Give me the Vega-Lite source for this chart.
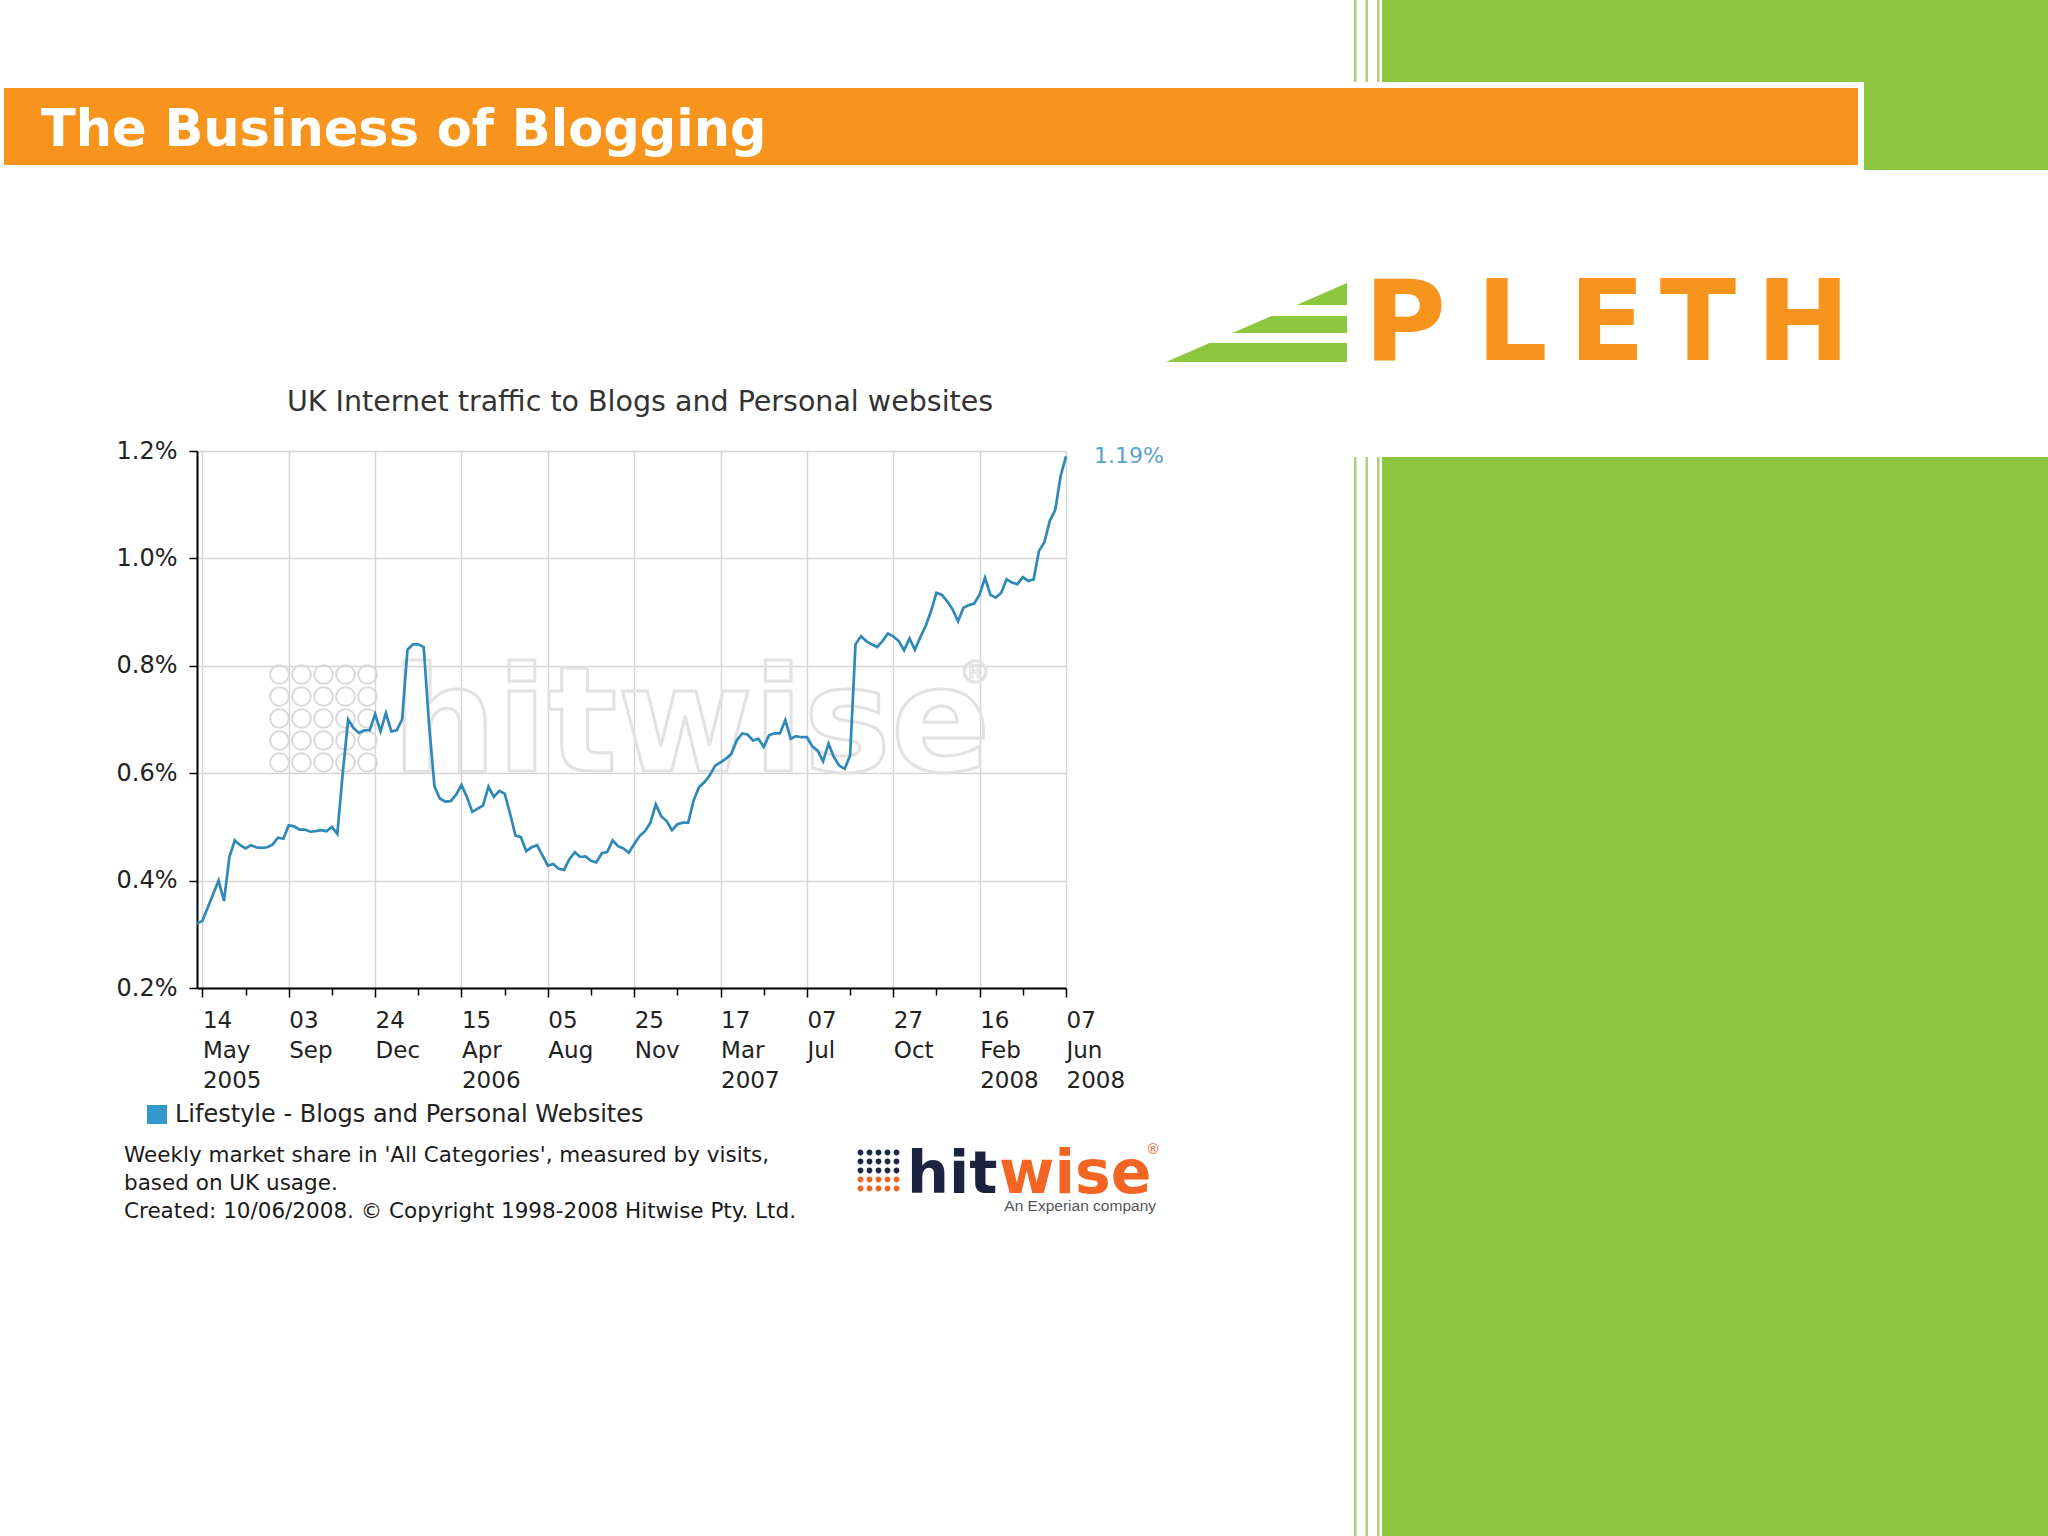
{
  "$schema": "https://vega.github.io/schema/vega-lite/v6.json",
  "width": 869,
  "height": 537,
  "autosize": {"type": "none"},
  "padding": {"left": 197, "top": 451, "right": 982, "bottom": 548},
  "background": "white",
  "config": {"view": {"stroke": null}, "font": "DejaVu Sans", "text": {"font": "DejaVu Sans"}},
  "layer": [
    {
      "data": {"values": [{}]},
      "layer": [
        {"mark": {"type": "rect", "color": "#8dc63f"}, "encoding": {"x": {"datum": 1382, "type": "quantitative", "scale": {"domain": [197, 1066], "nice": false, "zero": false}, "axis": null}, "x2": {"datum": 2048}, "y": {"datum": 0, "type": "quantitative", "scale": {"domain": [451, 988], "reverse": true, "nice": false, "zero": false}, "axis": null}, "y2": {"datum": 170}}},
        {"mark": {"type": "rect", "color": "#8dc63f"}, "encoding": {"x": {"datum": 1382, "type": "quantitative", "scale": {"domain": [197, 1066], "nice": false, "zero": false}, "axis": null}, "x2": {"datum": 2048}, "y": {"datum": 457, "type": "quantitative", "scale": {"domain": [451, 988], "reverse": true, "nice": false, "zero": false}, "axis": null}, "y2": {"datum": 1536}}},
        {"mark": {"type": "rect", "color": "#b3cc82"}, "encoding": {"x": {"datum": 1354, "type": "quantitative", "scale": {"domain": [197, 1066], "nice": false, "zero": false}, "axis": null}, "x2": {"datum": 1356.5}, "y": {"datum": 0, "type": "quantitative", "scale": {"domain": [451, 988], "reverse": true, "nice": false, "zero": false}, "axis": null}, "y2": {"datum": 1536}}},
        {"mark": {"type": "rect", "color": "#b3cc82"}, "encoding": {"x": {"datum": 1365.5, "type": "quantitative", "scale": {"domain": [197, 1066], "nice": false, "zero": false}, "axis": null}, "x2": {"datum": 1368}, "y": {"datum": 0, "type": "quantitative", "scale": {"domain": [451, 988], "reverse": true, "nice": false, "zero": false}, "axis": null}, "y2": {"datum": 1536}}},
        {"mark": {"type": "rect", "color": "#b3cc82"}, "encoding": {"x": {"datum": 1377, "type": "quantitative", "scale": {"domain": [197, 1066], "nice": false, "zero": false}, "axis": null}, "x2": {"datum": 1379.5}, "y": {"datum": 0, "type": "quantitative", "scale": {"domain": [451, 988], "reverse": true, "nice": false, "zero": false}, "axis": null}, "y2": {"datum": 1536}}},
        {"mark": {"type": "rect", "color": "#ffffff"}, "encoding": {"x": {"datum": 1340, "type": "quantitative", "scale": {"domain": [197, 1066], "nice": false, "zero": false}, "axis": null}, "x2": {"datum": 1864}, "y": {"datum": 82, "type": "quantitative", "scale": {"domain": [451, 988], "reverse": true, "nice": false, "zero": false}, "axis": null}, "y2": {"datum": 170}}},
        {"mark": {"type": "rect", "color": "#ffffff"}, "encoding": {"x": {"datum": 1340, "type": "quantitative", "scale": {"domain": [197, 1066], "nice": false, "zero": false}, "axis": null}, "x2": {"datum": 2048}, "y": {"datum": 170, "type": "quantitative", "scale": {"domain": [451, 988], "reverse": true, "nice": false, "zero": false}, "axis": null}, "y2": {"datum": 457}}},
        {"mark": {"type": "rect", "color": "#f7941d"}, "encoding": {"x": {"datum": 4, "type": "quantitative", "scale": {"domain": [197, 1066], "nice": false, "zero": false}, "axis": null}, "x2": {"datum": 1858}, "y": {"datum": 88, "type": "quantitative", "scale": {"domain": [451, 988], "reverse": true, "nice": false, "zero": false}, "axis": null}, "y2": {"datum": 165}}},
        {"mark": {"type": "text", "text": "The Business of Blogging", "fontWeight": "bold", "fontSize": 51, "color": "#ffffff", "align": "left", "baseline": "alphabetic"}, "encoding": {"x": {"datum": 41, "type": "quantitative", "scale": {"domain": [197, 1066], "nice": false, "zero": false}, "axis": null}, "y": {"datum": 146, "type": "quantitative", "scale": {"domain": [451, 988], "reverse": true, "nice": false, "zero": false}, "axis": null}}},
        {"mark": {"type": "text", "text": "P", "fontWeight": "bold", "fontSize": 112, "color": "#f7941d", "align": "center", "baseline": "alphabetic"}, "encoding": {"x": {"datum": 1405, "type": "quantitative", "scale": {"domain": [197, 1066], "nice": false, "zero": false}, "axis": null}, "y": {"datum": 360, "type": "quantitative", "scale": {"domain": [451, 988], "reverse": true, "nice": false, "zero": false}, "axis": null}}},
        {"mark": {"type": "text", "text": "L", "fontWeight": "bold", "fontSize": 112, "color": "#f7941d", "align": "center", "baseline": "alphabetic"}, "encoding": {"x": {"datum": 1512, "type": "quantitative", "scale": {"domain": [197, 1066], "nice": false, "zero": false}, "axis": null}, "y": {"datum": 360, "type": "quantitative", "scale": {"domain": [451, 988], "reverse": true, "nice": false, "zero": false}, "axis": null}}},
        {"mark": {"type": "text", "text": "E", "fontWeight": "bold", "fontSize": 112, "color": "#f7941d", "align": "center", "baseline": "alphabetic"}, "encoding": {"x": {"datum": 1607, "type": "quantitative", "scale": {"domain": [197, 1066], "nice": false, "zero": false}, "axis": null}, "y": {"datum": 360, "type": "quantitative", "scale": {"domain": [451, 988], "reverse": true, "nice": false, "zero": false}, "axis": null}}},
        {"mark": {"type": "text", "text": "T", "fontWeight": "bold", "fontSize": 112, "color": "#f7941d", "align": "center", "baseline": "alphabetic"}, "encoding": {"x": {"datum": 1698, "type": "quantitative", "scale": {"domain": [197, 1066], "nice": false, "zero": false}, "axis": null}, "y": {"datum": 360, "type": "quantitative", "scale": {"domain": [451, 988], "reverse": true, "nice": false, "zero": false}, "axis": null}}},
        {"mark": {"type": "text", "text": "H", "fontWeight": "bold", "fontSize": 112, "color": "#f7941d", "align": "center", "baseline": "alphabetic"}, "encoding": {"x": {"datum": 1803, "type": "quantitative", "scale": {"domain": [197, 1066], "nice": false, "zero": false}, "axis": null}, "y": {"datum": 360, "type": "quantitative", "scale": {"domain": [451, 988], "reverse": true, "nice": false, "zero": false}, "axis": null}}},
        {"mark": {"type": "point", "shape": "M1,-0.436L1,-0.193L0.443,-0.193Z M1,-0.072L1,0.116L-0.266,0.116L0.165,-0.072Z M1,0.2265L1,0.4365L-1,0.4365L-0.519,0.2265Z", "size": 32761, "filled": true, "color": "#8dc63f", "opacity": 1, "strokeWidth": 0}, "encoding": {"x": {"datum": 1256.5, "type": "quantitative", "scale": {"domain": [197, 1066], "nice": false, "zero": false}, "axis": null}, "y": {"datum": 322.5, "type": "quantitative", "scale": {"domain": [451, 988], "reverse": true, "nice": false, "zero": false}, "axis": null}}},
        {"mark": {"type": "text", "text": "UK Internet traffic to Blogs and Personal websites", "fontSize": 28.5, "color": "#333333", "align": "center", "baseline": "alphabetic"}, "encoding": {"x": {"datum": 640, "type": "quantitative", "scale": {"domain": [197, 1066], "nice": false, "zero": false}, "axis": null}, "y": {"datum": 411, "type": "quantitative", "scale": {"domain": [451, 988], "reverse": true, "nice": false, "zero": false}, "axis": null}}},
        {"mark": {"type": "point", "shape": "M-0.97,-0.8A0.17,0.17 0 1,0 -0.63,-0.8A0.17,0.17 0 1,0 -0.97,-0.8Z M-0.57,-0.8A0.17,0.17 0 1,0 -0.23,-0.8A0.17,0.17 0 1,0 -0.57,-0.8Z M-0.17,-0.8A0.17,0.17 0 1,0 0.17,-0.8A0.17,0.17 0 1,0 -0.17,-0.8Z M0.23,-0.8A0.17,0.17 0 1,0 0.57,-0.8A0.17,0.17 0 1,0 0.23,-0.8Z M0.63,-0.8A0.17,0.17 0 1,0 0.97,-0.8A0.17,0.17 0 1,0 0.63,-0.8Z M-0.97,-0.4A0.17,0.17 0 1,0 -0.63,-0.4A0.17,0.17 0 1,0 -0.97,-0.4Z M-0.57,-0.4A0.17,0.17 0 1,0 -0.23,-0.4A0.17,0.17 0 1,0 -0.57,-0.4Z M-0.17,-0.4A0.17,0.17 0 1,0 0.17,-0.4A0.17,0.17 0 1,0 -0.17,-0.4Z M0.23,-0.4A0.17,0.17 0 1,0 0.57,-0.4A0.17,0.17 0 1,0 0.23,-0.4Z M0.63,-0.4A0.17,0.17 0 1,0 0.97,-0.4A0.17,0.17 0 1,0 0.63,-0.4Z M-0.97,0A0.17,0.17 0 1,0 -0.63,0A0.17,0.17 0 1,0 -0.97,0Z M-0.57,0A0.17,0.17 0 1,0 -0.23,0A0.17,0.17 0 1,0 -0.57,0Z M-0.17,0A0.17,0.17 0 1,0 0.17,0A0.17,0.17 0 1,0 -0.17,0Z M0.23,0A0.17,0.17 0 1,0 0.57,0A0.17,0.17 0 1,0 0.23,0Z M0.63,0A0.17,0.17 0 1,0 0.97,0A0.17,0.17 0 1,0 0.63,0Z M-0.97,0.4A0.17,0.17 0 1,0 -0.63,0.4A0.17,0.17 0 1,0 -0.97,0.4Z M-0.57,0.4A0.17,0.17 0 1,0 -0.23,0.4A0.17,0.17 0 1,0 -0.57,0.4Z M-0.17,0.4A0.17,0.17 0 1,0 0.17,0.4A0.17,0.17 0 1,0 -0.17,0.4Z M0.23,0.4A0.17,0.17 0 1,0 0.57,0.4A0.17,0.17 0 1,0 0.23,0.4Z M0.63,0.4A0.17,0.17 0 1,0 0.97,0.4A0.17,0.17 0 1,0 0.63,0.4Z M-0.97,0.8A0.17,0.17 0 1,0 -0.63,0.8A0.17,0.17 0 1,0 -0.97,0.8Z M-0.57,0.8A0.17,0.17 0 1,0 -0.23,0.8A0.17,0.17 0 1,0 -0.57,0.8Z M-0.17,0.8A0.17,0.17 0 1,0 0.17,0.8A0.17,0.17 0 1,0 -0.17,0.8Z M0.23,0.8A0.17,0.17 0 1,0 0.57,0.8A0.17,0.17 0 1,0 0.23,0.8Z M0.63,0.8A0.17,0.17 0 1,0 0.97,0.8A0.17,0.17 0 1,0 0.63,0.8Z", "size": 12100, "filled": false, "color": "#d9d9d9", "strokeWidth": 2, "opacity": 1}, "encoding": {"x": {"datum": 323.5, "type": "quantitative", "scale": {"domain": [197, 1066], "nice": false, "zero": false}, "axis": null}, "y": {"datum": 718.5, "type": "quantitative", "scale": {"domain": [451, 988], "reverse": true, "nice": false, "zero": false}, "axis": null}}},
        {"mark": {"type": "text", "text": "hitwise", "fontWeight": "bold", "fontSize": 147, "fill": "transparent", "stroke": "#e2e2e2", "strokeWidth": 3, "align": "left", "baseline": "alphabetic"}, "encoding": {"x": {"datum": 392, "type": "quantitative", "scale": {"domain": [197, 1066], "nice": false, "zero": false}, "axis": null}, "y": {"datum": 771, "type": "quantitative", "scale": {"domain": [451, 988], "reverse": true, "nice": false, "zero": false}, "axis": null}}},
        {"mark": {"type": "text", "text": "®", "fontSize": 32, "fill": "transparent", "stroke": "#e2e2e2", "strokeWidth": 1.5, "align": "center", "baseline": "middle"}, "encoding": {"x": {"datum": 975, "type": "quantitative", "scale": {"domain": [197, 1066], "nice": false, "zero": false}, "axis": null}, "y": {"datum": 673, "type": "quantitative", "scale": {"domain": [451, 988], "reverse": true, "nice": false, "zero": false}, "axis": null}}},
        {"mark": {"type": "rect", "color": "#3399cc"}, "encoding": {"x": {"datum": 147, "type": "quantitative", "scale": {"domain": [197, 1066], "nice": false, "zero": false}, "axis": null}, "x2": {"datum": 167}, "y": {"datum": 1105, "type": "quantitative", "scale": {"domain": [451, 988], "reverse": true, "nice": false, "zero": false}, "axis": null}, "y2": {"datum": 1124}}},
        {"mark": {"type": "text", "text": "Lifestyle - Blogs and Personal Websites", "fontSize": 24, "color": "#222222", "align": "left", "baseline": "alphabetic"}, "encoding": {"x": {"datum": 175, "type": "quantitative", "scale": {"domain": [197, 1066], "nice": false, "zero": false}, "axis": null}, "y": {"datum": 1122, "type": "quantitative", "scale": {"domain": [451, 988], "reverse": true, "nice": false, "zero": false}, "axis": null}}},
        {"mark": {"type": "text", "text": ["Weekly market share in 'All Categories', measured by visits,", "based on UK usage.", "Created: 10/06/2008. © Copyright 1998-2008 Hitwise Pty. Ltd."], "fontSize": 21.5, "lineHeight": 28, "color": "#1a1a1a", "align": "left", "baseline": "alphabetic"}, "encoding": {"x": {"datum": 124, "type": "quantitative", "scale": {"domain": [197, 1066], "nice": false, "zero": false}, "axis": null}, "y": {"datum": 1162, "type": "quantitative", "scale": {"domain": [451, 988], "reverse": true, "nice": false, "zero": false}, "axis": null}}},
        {"mark": {"type": "point", "shape": "M-0.93,-0.8A0.13,0.13 0 1,0 -0.67,-0.8A0.13,0.13 0 1,0 -0.93,-0.8Z M-0.53,-0.8A0.13,0.13 0 1,0 -0.27,-0.8A0.13,0.13 0 1,0 -0.53,-0.8Z M-0.13,-0.8A0.13,0.13 0 1,0 0.13,-0.8A0.13,0.13 0 1,0 -0.13,-0.8Z M0.27,-0.8A0.13,0.13 0 1,0 0.53,-0.8A0.13,0.13 0 1,0 0.27,-0.8Z M0.67,-0.8A0.13,0.13 0 1,0 0.93,-0.8A0.13,0.13 0 1,0 0.67,-0.8Z M-0.93,-0.4A0.13,0.13 0 1,0 -0.67,-0.4A0.13,0.13 0 1,0 -0.93,-0.4Z M-0.53,-0.4A0.13,0.13 0 1,0 -0.27,-0.4A0.13,0.13 0 1,0 -0.53,-0.4Z M-0.13,-0.4A0.13,0.13 0 1,0 0.13,-0.4A0.13,0.13 0 1,0 -0.13,-0.4Z M0.27,-0.4A0.13,0.13 0 1,0 0.53,-0.4A0.13,0.13 0 1,0 0.27,-0.4Z M0.67,-0.4A0.13,0.13 0 1,0 0.93,-0.4A0.13,0.13 0 1,0 0.67,-0.4Z M-0.93,0A0.13,0.13 0 1,0 -0.67,0A0.13,0.13 0 1,0 -0.93,0Z M-0.53,0A0.13,0.13 0 1,0 -0.27,0A0.13,0.13 0 1,0 -0.53,0Z M-0.13,0A0.13,0.13 0 1,0 0.13,0A0.13,0.13 0 1,0 -0.13,0Z M0.27,0A0.13,0.13 0 1,0 0.53,0A0.13,0.13 0 1,0 0.27,0Z M0.67,0A0.13,0.13 0 1,0 0.93,0A0.13,0.13 0 1,0 0.67,0Z", "size": 2025, "filled": true, "color": "#1d2742", "opacity": 1, "strokeWidth": 0}, "encoding": {"x": {"datum": 878.5, "type": "quantitative", "scale": {"domain": [197, 1066], "nice": false, "zero": false}, "axis": null}, "y": {"datum": 1170.5, "type": "quantitative", "scale": {"domain": [451, 988], "reverse": true, "nice": false, "zero": false}, "axis": null}}},
        {"mark": {"type": "point", "shape": "M-0.93,0.4A0.13,0.13 0 1,0 -0.67,0.4A0.13,0.13 0 1,0 -0.93,0.4Z M-0.53,0.4A0.13,0.13 0 1,0 -0.27,0.4A0.13,0.13 0 1,0 -0.53,0.4Z M-0.13,0.4A0.13,0.13 0 1,0 0.13,0.4A0.13,0.13 0 1,0 -0.13,0.4Z M0.27,0.4A0.13,0.13 0 1,0 0.53,0.4A0.13,0.13 0 1,0 0.27,0.4Z M0.67,0.4A0.13,0.13 0 1,0 0.93,0.4A0.13,0.13 0 1,0 0.67,0.4Z M-0.93,0.8A0.13,0.13 0 1,0 -0.67,0.8A0.13,0.13 0 1,0 -0.93,0.8Z M-0.53,0.8A0.13,0.13 0 1,0 -0.27,0.8A0.13,0.13 0 1,0 -0.53,0.8Z M-0.13,0.8A0.13,0.13 0 1,0 0.13,0.8A0.13,0.13 0 1,0 -0.13,0.8Z M0.27,0.8A0.13,0.13 0 1,0 0.53,0.8A0.13,0.13 0 1,0 0.27,0.8Z M0.67,0.8A0.13,0.13 0 1,0 0.93,0.8A0.13,0.13 0 1,0 0.67,0.8Z", "size": 2025, "filled": true, "color": "#f26522", "opacity": 1, "strokeWidth": 0}, "encoding": {"x": {"datum": 878.5, "type": "quantitative", "scale": {"domain": [197, 1066], "nice": false, "zero": false}, "axis": null}, "y": {"datum": 1170.5, "type": "quantitative", "scale": {"domain": [451, 988], "reverse": true, "nice": false, "zero": false}, "axis": null}}},
        {"mark": {"type": "text", "text": "hit", "fontWeight": "bold", "fontSize": 59, "color": "#1c2340", "align": "left", "baseline": "alphabetic"}, "encoding": {"x": {"datum": 907, "type": "quantitative", "scale": {"domain": [197, 1066], "nice": false, "zero": false}, "axis": null}, "y": {"datum": 1193, "type": "quantitative", "scale": {"domain": [451, 988], "reverse": true, "nice": false, "zero": false}, "axis": null}}},
        {"mark": {"type": "text", "text": "wise", "fontWeight": "bold", "fontSize": 60, "color": "#f26522", "align": "left", "baseline": "alphabetic"}, "encoding": {"x": {"datum": 999, "type": "quantitative", "scale": {"domain": [197, 1066], "nice": false, "zero": false}, "axis": null}, "y": {"datum": 1193, "type": "quantitative", "scale": {"domain": [451, 988], "reverse": true, "nice": false, "zero": false}, "axis": null}}},
        {"mark": {"type": "text", "text": "®", "fontSize": 14, "color": "#f26522", "align": "center", "baseline": "middle"}, "encoding": {"x": {"datum": 1153, "type": "quantitative", "scale": {"domain": [197, 1066], "nice": false, "zero": false}, "axis": null}, "y": {"datum": 1150, "type": "quantitative", "scale": {"domain": [451, 988], "reverse": true, "nice": false, "zero": false}, "axis": null}}},
        {"mark": {"type": "text", "text": "An Experian company", "font": "Liberation Sans", "fontSize": 15.5, "color": "#555555", "align": "right", "baseline": "alphabetic"}, "encoding": {"x": {"datum": 1156, "type": "quantitative", "scale": {"domain": [197, 1066], "nice": false, "zero": false}, "axis": null}, "y": {"datum": 1211, "type": "quantitative", "scale": {"domain": [451, 988], "reverse": true, "nice": false, "zero": false}, "axis": null}}}
      ]
    },
    {
      "data": {"values": [
        {"week": "2005-05-07", "share": 0.32}, {"week": "2005-05-14", "share": 0.325}, {"week": "2005-05-21", "share": 0.35}, {"week": "2005-05-28", "share": 0.375},
        {"week": "2005-06-04", "share": 0.40}, {"week": "2005-06-11", "share": 0.362}, {"week": "2005-06-18", "share": 0.444}, {"week": "2005-06-25", "share": 0.475},
        {"week": "2005-07-02", "share": 0.466}, {"week": "2005-07-09", "share": 0.46}, {"week": "2005-07-16", "share": 0.466}, {"week": "2005-07-23", "share": 0.462}, {"week": "2005-07-30", "share": 0.461},
        {"week": "2005-08-06", "share": 0.462}, {"week": "2005-08-13", "share": 0.467}, {"week": "2005-08-20", "share": 0.48}, {"week": "2005-08-27", "share": 0.478},
        {"week": "2005-09-03", "share": 0.503}, {"week": "2005-09-10", "share": 0.501}, {"week": "2005-09-17", "share": 0.495}, {"week": "2005-09-24", "share": 0.495},
        {"week": "2005-10-01", "share": 0.491}, {"week": "2005-10-08", "share": 0.492}, {"week": "2005-10-15", "share": 0.494}, {"week": "2005-10-22", "share": 0.492}, {"week": "2005-10-29", "share": 0.50},
        {"week": "2005-11-05", "share": 0.487}, {"week": "2005-11-12", "share": 0.60}, {"week": "2005-11-19", "share": 0.70}, {"week": "2005-11-26", "share": 0.684},
        {"week": "2005-12-03", "share": 0.675}, {"week": "2005-12-10", "share": 0.68}, {"week": "2005-12-17", "share": 0.68}, {"week": "2005-12-24", "share": 0.71}, {"week": "2005-12-31", "share": 0.678},
        {"week": "2006-01-07", "share": 0.712}, {"week": "2006-01-14", "share": 0.678}, {"week": "2006-01-21", "share": 0.68}, {"week": "2006-01-28", "share": 0.70},
        {"week": "2006-02-04", "share": 0.83}, {"week": "2006-02-11", "share": 0.84}, {"week": "2006-02-18", "share": 0.84}, {"week": "2006-02-25", "share": 0.835},
        {"week": "2006-03-04", "share": 0.69}, {"week": "2006-03-11", "share": 0.575}, {"week": "2006-03-18", "share": 0.553}, {"week": "2006-03-25", "share": 0.547},
        {"week": "2006-04-01", "share": 0.548}, {"week": "2006-04-08", "share": 0.56}, {"week": "2006-04-15", "share": 0.578}, {"week": "2006-04-22", "share": 0.556}, {"week": "2006-04-29", "share": 0.528},
        {"week": "2006-05-06", "share": 0.534}, {"week": "2006-05-13", "share": 0.54}, {"week": "2006-05-20", "share": 0.575}, {"week": "2006-05-27", "share": 0.556},
        {"week": "2006-06-03", "share": 0.567}, {"week": "2006-06-10", "share": 0.562}, {"week": "2006-06-17", "share": 0.525}, {"week": "2006-06-24", "share": 0.484},
        {"week": "2006-07-01", "share": 0.481}, {"week": "2006-07-08", "share": 0.455}, {"week": "2006-07-15", "share": 0.462}, {"week": "2006-07-22", "share": 0.466}, {"week": "2006-07-29", "share": 0.447},
        {"week": "2006-08-05", "share": 0.428}, {"week": "2006-08-12", "share": 0.431}, {"week": "2006-08-19", "share": 0.422}, {"week": "2006-08-26", "share": 0.42},
        {"week": "2006-09-02", "share": 0.44}, {"week": "2006-09-09", "share": 0.453}, {"week": "2006-09-16", "share": 0.444}, {"week": "2006-09-23", "share": 0.445}, {"week": "2006-09-30", "share": 0.437},
        {"week": "2006-10-07", "share": 0.434}, {"week": "2006-10-14", "share": 0.451}, {"week": "2006-10-21", "share": 0.453}, {"week": "2006-10-28", "share": 0.475},
        {"week": "2006-11-04", "share": 0.464}, {"week": "2006-11-11", "share": 0.46}, {"week": "2006-11-18", "share": 0.452}, {"week": "2006-11-25", "share": 0.468},
        {"week": "2006-12-02", "share": 0.483}, {"week": "2006-12-09", "share": 0.492}, {"week": "2006-12-16", "share": 0.508}, {"week": "2006-12-23", "share": 0.542}, {"week": "2006-12-30", "share": 0.52},
        {"week": "2007-01-06", "share": 0.511}, {"week": "2007-01-13", "share": 0.494}, {"week": "2007-01-20", "share": 0.505}, {"week": "2007-01-27", "share": 0.508},
        {"week": "2007-02-03", "share": 0.508}, {"week": "2007-02-10", "share": 0.549}, {"week": "2007-02-17", "share": 0.574}, {"week": "2007-02-24", "share": 0.583},
        {"week": "2007-03-03", "share": 0.596}, {"week": "2007-03-10", "share": 0.614}, {"week": "2007-03-17", "share": 0.62}, {"week": "2007-03-24", "share": 0.627}, {"week": "2007-03-31", "share": 0.636},
        {"week": "2007-04-07", "share": 0.661}, {"week": "2007-04-14", "share": 0.674}, {"week": "2007-04-21", "share": 0.672}, {"week": "2007-04-28", "share": 0.661},
        {"week": "2007-05-05", "share": 0.664}, {"week": "2007-05-12", "share": 0.649}, {"week": "2007-05-19", "share": 0.671}, {"week": "2007-05-26", "share": 0.674},
        {"week": "2007-06-02", "share": 0.674}, {"week": "2007-06-09", "share": 0.699}, {"week": "2007-06-16", "share": 0.664}, {"week": "2007-06-23", "share": 0.669}, {"week": "2007-06-30", "share": 0.667},
        {"week": "2007-07-07", "share": 0.667}, {"week": "2007-07-14", "share": 0.65}, {"week": "2007-07-21", "share": 0.642}, {"week": "2007-07-28", "share": 0.622},
        {"week": "2007-08-04", "share": 0.655}, {"week": "2007-08-11", "share": 0.63}, {"week": "2007-08-18", "share": 0.614}, {"week": "2007-08-25", "share": 0.608},
        {"week": "2007-09-01", "share": 0.633}, {"week": "2007-09-08", "share": 0.84}, {"week": "2007-09-15", "share": 0.855}, {"week": "2007-09-22", "share": 0.846}, {"week": "2007-09-29", "share": 0.84},
        {"week": "2007-10-06", "share": 0.835}, {"week": "2007-10-13", "share": 0.846}, {"week": "2007-10-20", "share": 0.86}, {"week": "2007-10-27", "share": 0.855},
        {"week": "2007-11-03", "share": 0.846}, {"week": "2007-11-10", "share": 0.829}, {"week": "2007-11-17", "share": 0.851}, {"week": "2007-11-24", "share": 0.83},
        {"week": "2007-12-01", "share": 0.853}, {"week": "2007-12-08", "share": 0.874}, {"week": "2007-12-15", "share": 0.902}, {"week": "2007-12-22", "share": 0.936}, {"week": "2007-12-29", "share": 0.932},
        {"week": "2008-01-05", "share": 0.92}, {"week": "2008-01-12", "share": 0.905}, {"week": "2008-01-19", "share": 0.883}, {"week": "2008-01-26", "share": 0.908},
        {"week": "2008-02-02", "share": 0.913}, {"week": "2008-02-09", "share": 0.916}, {"week": "2008-02-16", "share": 0.933}, {"week": "2008-02-23", "share": 0.964},
        {"week": "2008-03-01", "share": 0.932}, {"week": "2008-03-08", "share": 0.927}, {"week": "2008-03-15", "share": 0.936}, {"week": "2008-03-22", "share": 0.961}, {"week": "2008-03-29", "share": 0.955},
        {"week": "2008-04-05", "share": 0.952}, {"week": "2008-04-12", "share": 0.965}, {"week": "2008-04-19", "share": 0.958}, {"week": "2008-04-26", "share": 0.961},
        {"week": "2008-05-03", "share": 1.014}, {"week": "2008-05-10", "share": 1.03}, {"week": "2008-05-17", "share": 1.07}, {"week": "2008-05-24", "share": 1.09}, {"week": "2008-05-31", "share": 1.153},
        {"week": "2008-06-07", "share": 1.19}
      ]},
      "layer": [
        {
          "mark": {"type": "line", "strokeWidth": 2.7, "color": "#2f89b8"},
          "encoding": {
            "x": {
              "field": "week", "type": "temporal",
              "scale": {"type": "utc", "domain": [{"year": 2005, "month": 5, "date": 7, "utc": true}, {"year": 2008, "month": 6, "date": 7, "utc": true}], "nice": false},
              "axis": {
                "orient": "bottom", "title": null,
                "values": [
                  {"year": 2005, "month": 5, "date": 14, "utc": true}, {"year": 2005, "month": 9, "date": 3, "utc": true}, {"year": 2005, "month": 12, "date": 24, "utc": true},
                  {"year": 2006, "month": 4, "date": 15, "utc": true}, {"year": 2006, "month": 8, "date": 5, "utc": true}, {"year": 2006, "month": 11, "date": 25, "utc": true},
                  {"year": 2007, "month": 3, "date": 17, "utc": true}, {"year": 2007, "month": 7, "date": 7, "utc": true}, {"year": 2007, "month": 10, "date": 27, "utc": true},
                  {"year": 2008, "month": 2, "date": 16, "utc": true}, {"year": 2008, "month": 6, "date": 7, "utc": true}
                ],
                "labelExpr": "indexof(['2005-05-14','2006-04-15','2007-03-17','2008-02-16','2008-06-07'], utcFormat(datum.value, '%Y-%m-%d')) >= 0 ? [utcFormat(datum.value, '%d'), utcFormat(datum.value, '%b'), utcFormat(datum.value, '%Y')] : [utcFormat(datum.value, '%d'), utcFormat(datum.value, '%b')]",
                "labelAlign": "left", "labelFlush": false, "labelOverlap": false, "labelBaseline": "top", "labelLineHeight": 30,
                "labelFontSize": 23, "labelColor": "#222222", "labelPadding": 12,
                "tickSize": 9, "tickColor": "#000000", "tickWidth": 1.5,
                "domainColor": "#000000", "domainWidth": 2,
                "grid": true, "gridColor": "#d6d6d6", "gridWidth": 1.5
              }
            },
            "y": {
              "field": "share", "type": "quantitative",
              "scale": {"domain": [0.2, 1.2], "nice": false, "zero": false},
              "axis": {
                "orient": "left", "title": null, "values": [0.2, 0.4, 0.6, 0.8, 1.0, 1.2],
                "labelExpr": "format(datum.value, '.1f') + '%'",
                "labelFontSize": 24, "labelColor": "#222222", "labelPadding": 12,
                "tickSize": 8, "tickColor": "#000000", "tickWidth": 1.5,
                "domainColor": "#000000", "domainWidth": 2,
                "grid": true, "gridColor": "#d6d6d6", "gridWidth": 1.5
              }
            }
          }
        },
        {
          "mark": {"type": "point", "opacity": 0},
          "encoding": {
            "x": {
              "field": "week", "type": "temporal",
              "axis": {
                "orient": "bottom", "title": null, "labels": false, "grid": false, "domain": false,
                "values": [
                  {"year": 2005, "month": 7, "date": 9, "utc": true}, {"year": 2005, "month": 10, "date": 29, "utc": true}, {"year": 2006, "month": 2, "date": 18, "utc": true},
                  {"year": 2006, "month": 6, "date": 10, "utc": true}, {"year": 2006, "month": 9, "date": 30, "utc": true}, {"year": 2007, "month": 1, "date": 20, "utc": true},
                  {"year": 2007, "month": 5, "date": 12, "utc": true}, {"year": 2007, "month": 9, "date": 1, "utc": true}, {"year": 2007, "month": 12, "date": 22, "utc": true},
                  {"year": 2008, "month": 4, "date": 12, "utc": true}
                ],
                "tickSize": 7, "tickColor": "#000000", "tickWidth": 1.5
              }
            }
          }
        },
        {
          "transform": [{"filter": "datum.share >= 1.19"}, {"calculate": "format(datum.share, '.2f') + '%'", "as": "label"}],
          "mark": {"type": "text", "align": "left", "baseline": "middle", "dx": 28, "fontSize": 22, "color": "#5aa2cc"},
          "encoding": {
            "x": {"field": "week", "type": "temporal", "axis": null},
            "y": {"field": "share", "type": "quantitative"},
            "text": {"field": "label"}
          }
        }
      ],
      "resolve": {"axis": {"x": "independent"}}
    }
  ],
  "resolve": {"scale": {"x": "independent", "y": "independent"}}
}
